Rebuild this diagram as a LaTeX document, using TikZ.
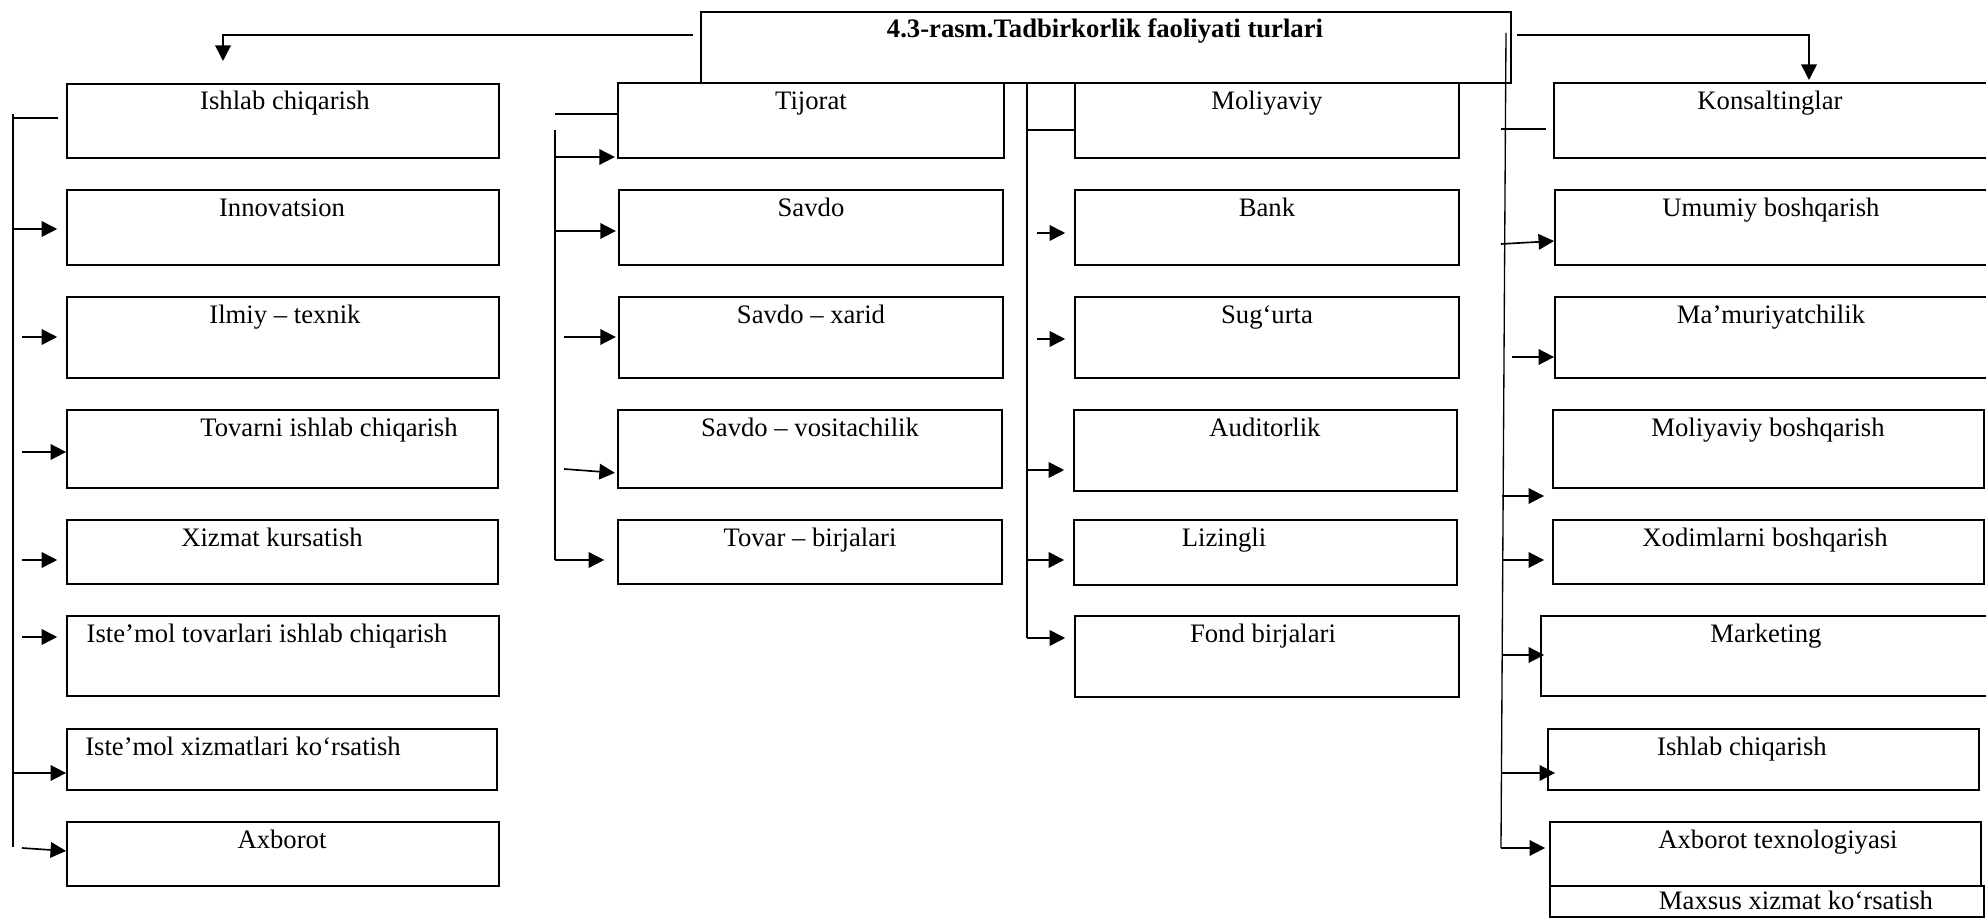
\documentclass[tikz,border=0pt]{standalone}
\usepackage{fontspec}
\setmainfont{Liberation Serif}
\usetikzlibrary{arrows.meta}
\usetikzlibrary{fit}

\begin{document}
\begin{tikzpicture}[
    x=0.45pt, y=-0.45pt,
    font=\fontsize{12pt}{14pt}\selectfont,
    box/.style={draw, line width=0.8pt, inner sep=0pt},
    lbl/.style={anchor=base, inner sep=0pt, yshift=-0.9pt},
    trunk/.style={line width=0.6pt},
    arr/.style={line width=0.75pt, -{Triangle[length=7pt,width=7pt]}},
    gap/.style={shorten >=4pt}
  ]
\useasboundingbox (0,0) rectangle (1986,918);
\clip (0,0) rectangle (1986,918);

% title
\node[box, fit={(701,12) (1511,83)}] (title) {};
\node[lbl, font=\fontsize{12pt}{14pt}\selectfont\bfseries] (t-title) at (1105,36) {4.3-rasm.Tadbirkorlik faoliyati turlari};

% column 1
\node[box, fit={(67,84) (499,158)}] (ic) {};
\node[box, fit={(67,190) (499,265)}] (inn) {};
\node[box, fit={(67,297) (499,378)}] (ilm) {};
\node[box, fit={(67,410) (498,488)}] (tov) {};
\node[box, fit={(67,520) (498,584)}] (xiz) {};
\node[box, fit={(67,616) (499,696)}] (ist1) {};
\node[box, fit={(67,729) (497,790)}] (ist2) {};
\node[box, fit={(67,822) (499,886)}] (axb) {};
\node[lbl] (t-ic) at (285,108) {Ishlab chiqarish};
\node[lbl] (t-inn) at (282,215) {Innovatsion};
\node[lbl] (t-ilm) at (285,322) {Ilmiy – texnik};
\node[lbl] (t-tov) at (329,435) {Tovarni ishlab chiqarish};
\node[lbl] (t-xiz) at (272,545) {Xizmat kursatish};
\node[lbl] (t-ist1) at (267,641) {Iste’mol tovarlari ishlab chiqarish};
\node[lbl] (t-ist2) at (243,754) {Iste’mol xizmatlari ko‘rsatish};
\node[lbl] (t-axb) at (282,847) {Axborot};

% column 2
\node[box, fit={(618,83) (1004,158)}] (tij) {};
\node[box, fit={(619,190) (1003,265)}] (sav) {};
\node[box, fit={(619,297) (1003,378)}] (sx) {};
\node[box, fit={(618,410) (1002,488)}] (sv) {};
\node[box, fit={(618,520) (1002,584)}] (tb) {};
\node[lbl] (t-tij) at (811,108) {Tijorat};
\node[lbl] (t-sav) at (811,215) {Savdo};
\node[lbl] (t-sx) at (811,322) {Savdo – xarid};
\node[lbl] (t-sv) at (810,435) {Savdo – vositachilik};
\node[lbl] (t-tb) at (810,545) {Tovar – birjalari};

% column 3
\node[box, fit={(1075,83) (1459,158)}] (mol) {};
\node[box, fit={(1075,190) (1459,265)}] (bank) {};
\node[box, fit={(1075,297) (1459,378)}] (sug) {};
\node[box, fit={(1074,410) (1457,491)}] (aud) {};
\node[box, fit={(1074,520) (1457,585)}] (liz) {};
\node[box, fit={(1075,616) (1459,697)}] (fond) {};
\node[lbl] (t-mol) at (1267,108) {Moliyaviy};
\node[lbl] (t-bank) at (1267,215) {Bank};
\node[lbl] (t-sug) at (1267,322) {Sug‘urta};
\node[lbl] (t-aud) at (1265,435) {Auditorlik};
\node[lbl] (t-liz) at (1224,545) {Lizingli};
\node[lbl] (t-fond) at (1263,641) {Fond birjalari};

% column 4
\node[box, fit={(1554,83) (2000,158)}] (kon) {};
\node[box, fit={(1555,190) (2000,265)}] (umu) {};
\node[box, fit={(1555,297) (2000,378)}] (mam) {};
\node[box, fit={(1553,410) (1984,488)}] (mb) {};
\node[box, fit={(1553,520) (1984,584)}] (xod) {};
\node[box, fit={(1541,616) (2000,696)}] (mar) {};
\node[box, fit={(1548,729) (1979,790)}] (ic2) {};
\node[box, fit={(1550,822) (1981,886)}] (axt) {};
\node[box, fit={(1550,886) (1984,917)}] (mx) {};
\node[lbl] (t-kon) at (1770,108) {Konsaltinglar};
\node[lbl] (t-umu) at (1771,215) {Umumiy boshqarish};
\node[lbl] (t-mam) at (1771,322) {Ma’muriyatchilik};
\node[lbl] (t-mb) at (1768,435) {Moliyaviy boshqarish};
\node[lbl] (t-xod) at (1765,545) {Xodimlarni boshqarish};
\node[lbl] (t-mar) at (1766,641) {Marketing};
\node[lbl] (t-ic2) at (1742,754) {Ishlab chiqarish};
\node[lbl] (t-axt) at (1778,847) {Axborot texnologiyasi};
\node[lbl, yshift=0.9pt] (t-mx) at (1796,910) {Maxsus xizmat ko‘rsatish};

% from the title to both sides
\coordinate (tl) at (693,35);
\coordinate (ic-in) at (223,61);
\coordinate (tr) at (1517,35);
\coordinate (kon-in) at (1809,80);
\draw[arr] (tl) -| (ic-in);
\draw[arr] (tr) -| (kon-in);

% column 1 links
\coordinate (c1-top) at (13,114);
\coordinate (c1-bot) at (13,847);
\coordinate (c1-stub) at (13,118);
\coordinate (c1-inn) at (13,229);
\coordinate (c1-ilm) at (22,337);
\coordinate (c1-tov) at (22,452);
\coordinate (c1-xiz) at (22,560);
\coordinate (c1-ist1) at (22,637);
\coordinate (c1-ist2) at (13,773);
\coordinate (c1-axb) at (22,848);
\draw[trunk] (c1-top) -- (c1-bot);
\draw[trunk, shorten >=3.6pt] (c1-stub) -- (c1-stub -| ic.west);
\draw[arr, gap] (c1-inn) -- (c1-inn -| inn.west);
\draw[arr, gap] (c1-ilm) -- (c1-ilm -| ilm.west);
\draw[arr] (c1-tov) -- (c1-tov -| tov.west);
\draw[arr, gap] (c1-xiz) -- (c1-xiz -| xiz.west);
\draw[arr, gap] (c1-ist1) -- (c1-ist1 -| ist1.west);
\draw[arr] (c1-ist2) -- (c1-ist2 -| ist2.west);
\draw[arr] (c1-axb) -- ([yshift=-1.35pt]c1-axb -| axb.west);

% column 2 links
\coordinate (c2-top) at (555,130);
\coordinate (c2-bot) at (555,560);
\coordinate (c2-stub) at (555,114);
\coordinate (c2-tij) at (555,157);
\coordinate (c2-sav) at (555,231);
\coordinate (c2-sx) at (564,337);
\coordinate (c2-sv) at (564,469);
\draw[trunk] (c2-top) -- (c2-bot);
\draw[trunk] (c2-stub) -- (c2-stub -| tij.west);
\draw[arr, shorten >=1pt] (c2-tij) -- (c2-tij -| tij.west);
\draw[arr, shorten >=1pt] (c2-sav) -- (c2-sav -| sav.west);
\draw[arr, shorten >=1pt] (c2-sx) -- (c2-sx -| sx.west);
\draw[arr, shorten >=1pt] (c2-sv) -- ([yshift=-1.8pt]c2-sv -| sv.west);
\draw[arr, shorten >=5.8pt] (c2-bot) -- (c2-bot -| tb.west);

% column 3 links
\coordinate (c3-top) at (1027,83);
\coordinate (c3-bot) at (1027,638);
\coordinate (c3-stub) at (1027,130);
\coordinate (c3-bank) at (1037,233);
\coordinate (c3-sug) at (1037,339);
\coordinate (c3-aud) at (1027,470);
\coordinate (c3-liz) at (1027,560);
\draw[trunk] (c3-top) -- (c3-bot);
\draw[trunk] (c3-stub) -- (c3-stub -| mol.west);
\draw[arr, gap] (c3-bank) -- (c3-bank -| bank.west);
\draw[arr, gap] (c3-sug) -- (c3-sug -| sug.west);
\draw[arr, gap] (c3-aud) -- (c3-aud -| aud.west);
\draw[arr, gap] (c3-liz) -- (c3-liz -| liz.west);
\draw[arr, gap] (c3-bot) -- (c3-bot -| fond.west);

% column 4 links
\coordinate (c4-top) at (1506,33);
\coordinate (c4-bot) at (1501,848);
\coordinate (c4-stub) at (1501,129);
\coordinate (c4-umu) at (1501,244);
\coordinate (c4-mam) at (1512,357);
\coordinate (c4-mb) at (1502,496);
\coordinate (c4-xod) at (1502,560);
\coordinate (c4-mar) at (1502,655);
\coordinate (c4-ic2) at (1501,773);
\draw[trunk] (c4-top) -- (c4-bot);
\draw[trunk, shorten >=3.2pt] (c4-stub) -- (c4-stub -| kon.west);
\draw[arr] (c4-umu) -- ([yshift=1.35pt]c4-umu -| umu.west);
\draw[arr] (c4-mam) -- (c4-mam -| mam.west);
\draw[arr, shorten >=3.6pt] (c4-mb) -- (c4-mb -| mb.west);
\draw[arr, shorten >=3.6pt] (c4-xod) -- (c4-xod -| xod.west);
\draw[arr, shorten >=-1.8pt] (c4-mar) -- (c4-mar -| mar.west);
\draw[arr, shorten >=-3.6pt] (c4-ic2) -- (c4-ic2 -| ic2.west);
\draw[arr, shorten >=1.8pt] (c4-bot) -- (c4-bot -| axt.west);
\end{tikzpicture}
\end{document}
